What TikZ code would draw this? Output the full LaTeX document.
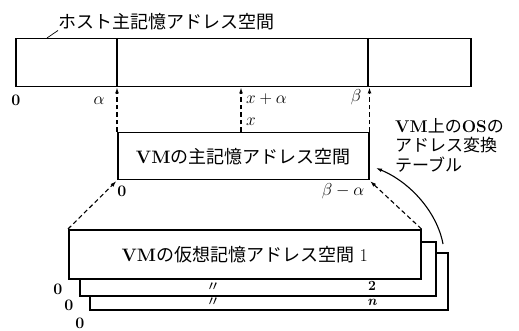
\documentclass[tikz,border=0pt]{standalone}
\usepackage{fontspec}
\newfontfamily\jp{Noto Sans CJK JP}
\usetikzlibrary{arrows.meta}
\tikzset{
  bx/.style={draw, line width=1.5pt, fill=white, inner sep=0pt, anchor=north west},
  dar/.style={dash pattern=on 4.5pt off 3pt, line width=1.1pt, -{Latex[length=6pt,width=4pt]}},
  num/.style={inner sep=0pt, font=\fontsize{16}{18}\selectfont},
  sml/.style={inner sep=0pt, font=\fontsize{14}{16}\selectfont},
  big/.style={inner sep=0pt, font=\fontsize{18}{20}\selectfont},
}
\begin{document}
\begin{tikzpicture}[x=1pt,y=-1pt]
\useasboundingbox (0,0) rectangle (519,331);
% host address space
\node[bx, minimum width=455pt, minimum height=48pt] (host) at (15,38) {};
\coordinate (ha) at (117,38);
\coordinate (hb) at (368,38);
\draw[line width=1.5pt] (host.north -| ha) -- (host.south -| ha);
\draw[line width=1.5pt] (host.north -| hb) -- (host.south -| hb);
\node[big, anchor=west] (hl) at (58,22) {\jp ホスト主記憶アドレス空間};
\coordinate (ld) at (47,38);
\draw[line width=0.7pt] (ld) -- (hl.south west);
\node[num] (h0) at (16,100) {\bfseries 0};
\node[num] (ha0) at (99,101) {$\alpha$};
\node[num, anchor=west] (hxa) at (246,99) {$x+\alpha$};
\node[num] (hbl) at (356,97) {$\beta$};
% VM main memory
\node[bx, minimum width=251pt, minimum height=47pt] (vm) at (117,132) {};
\node[big] (vmt) at (vm.center) {\bfseries VM\mdseries\jp の主記憶アドレス空間};
\coordinate (vx) at (241,132);
\draw[dar] (vm.north west) -- (vm.north west |- host.south);
\draw[dar] (vx) -- (vx |- host.south);
\draw[dar] (vm.north east) -- (vm.north east |- host.south);
\node[num] (vxl) at (251,122) {$x$};
\node[num] (v0) at (122,191) {\bfseries 0};
\node[num] (vba) at (343,191) {$\beta-\alpha$};
% virtual spaces
\node[bx, minimum width=358pt, minimum height=57pt] (bn) at (89,252) {};
\node[bx, minimum width=356pt, minimum height=54pt] (b2) at (79,241) {};
\node[bx, minimum width=352pt, minimum height=49pt] (b1) at (68,229) {};
\node[big] (b1t) at (b1.center) {\bfseries VM\mdseries\jp の仮想記憶アドレス空間\rmfamily\ 1};
\draw[dar, shorten >=1pt] (b1.north west) -- (vm.south west);
\draw[dar, shorten >=1pt] (b1.north east) -- (vm.south east);
\node[num] (z1) at (58,289) {\bfseries 0};
\node[num] (z2) at (69,305) {\bfseries 0};
\node[num] (z3) at (80,323) {\bfseries 0};
\node[sml] (d1) at (213,287) {\jp 〃};
\node[sml] (d2) at (213,302) {\jp 〃};
\node[sml] (l2) at (372,286) {\bfseries 2};
\node[sml] (ln) at (372,302.5) {\bfseries\itshape n};
% translation table
\node[inner sep=0pt, anchor=north west, align=left, font=\fontsize{17}{19.5}\selectfont] (tbl) at (395,118)
  {\bfseries VM\mdseries\jp 上の\rmfamily\bfseries OS\mdseries\jp の\\\jp アドレス変換\\\jp テーブル};
\coordinate (cs) at (443,244);
\coordinate (ce) at (376,168);
\draw[line width=1.1pt, -{Latex[length=6pt,width=4pt]}] (cs) .. controls (437,212) and (410,182) .. (ce);
\end{tikzpicture}
\end{document}
